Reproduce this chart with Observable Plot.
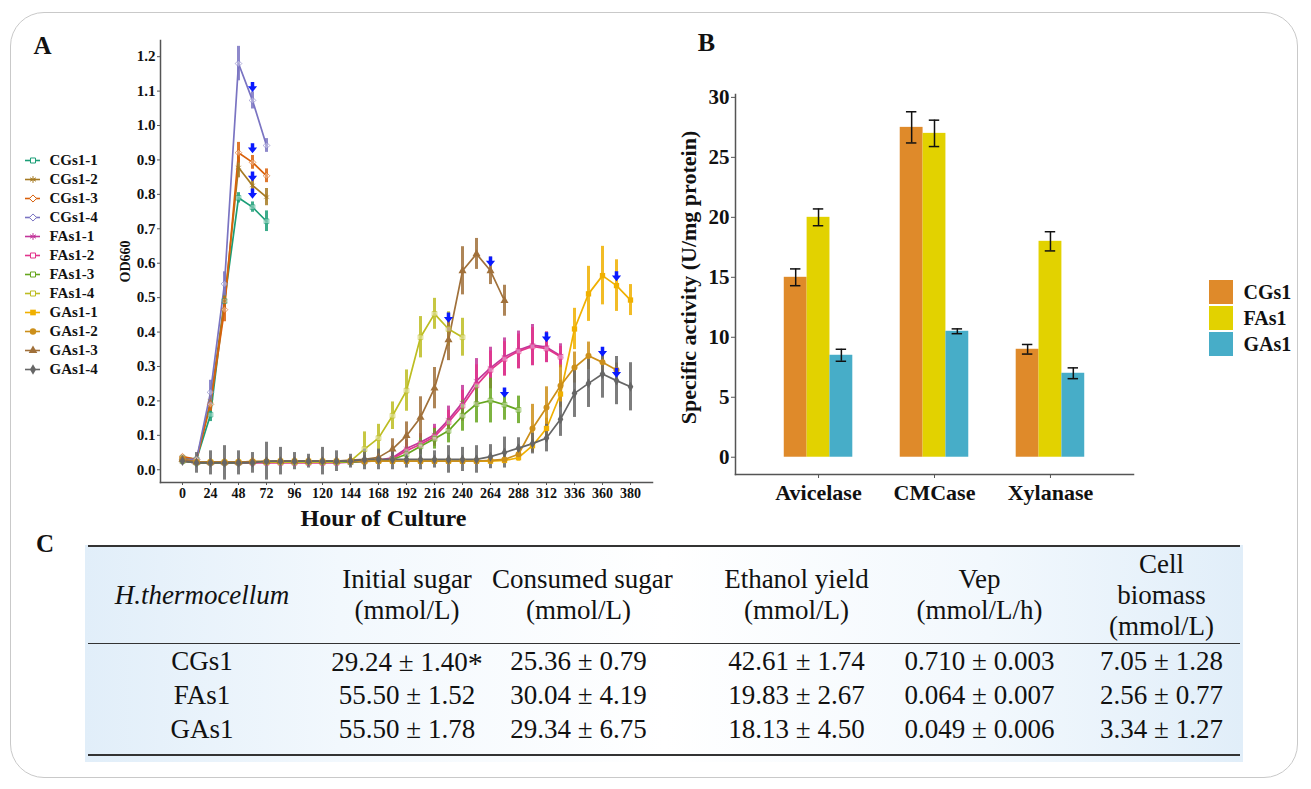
<!DOCTYPE html>
<html>
<head>
<meta charset="utf-8">
<script src="https://cdn.jsdelivr.net/npm/d3@7"></script>
<script src="https://cdn.jsdelivr.net/npm/@observablehq/plot@0.6"></script>
<style>
  body { margin: 0; background: #fff; }
  #fig { position: relative; width: 1311px; height: 789px; overflow: hidden;
         font-family: 'Liberation Serif', 'Times New Roman', serif; color: #111; }
  #border { position: absolute; left: 10px; top: 12px; width: 1288px; height: 766px;
            border: 1px solid #c9c9c9; border-radius: 34px; box-sizing: border-box; }
  .abs { position: absolute; }
  #labelC { position: absolute; left: 36px; top: 530px; font-size: 25px; font-weight: bold; }
  #tableWrap { position: absolute; left: 85px; top: 545px; width: 1158px; height: 217px;
    background: linear-gradient(to right, #e1eef9 0%, #f2f8fd 22%, #ffffff 50%, #f2f8fd 78%, #e1eef9 100%); }
  #tableWrap table { border-collapse: collapse; margin-left: 3px; width: 1152px; table-layout: fixed;
    font-size: 27px; color: #111; }
  #tableWrap th { font-weight: normal; line-height: 31px; height: 96px; padding: 0; text-align: center; white-space: nowrap;
    border-top: 2px solid #333; border-bottom: 1.5px solid #333; vertical-align: middle; }
  #tableWrap td { height: 34px; padding: 0; text-align: center; vertical-align: middle; white-space: nowrap; line-height: 30px; }
  #tableWrap tr.last td { border-bottom: 2px solid #333; padding-bottom: 8px; }
  #tableWrap th:first-child { font-style: italic; }
  #tableWrap .c1 { padding-left: 12px; }
  #tableWrap .c2 { padding-left: 18px; }
  #tableWrap .c3 { padding-right: 22px; }
  #tableWrap .c4 { padding-left: 18px; }
  #tableWrap .c6 { padding-left: 12px; }
  .star { font-size: 30px; position: relative; top: 2px; }
</style>
</head>
<body>
<div id="fig">
  <div id="border"></div>
  <div id="panelA" class="abs" style="left:0;top:0;"></div>
  <div id="legendA" class="abs" style="left:0;top:140px;"></div>
  <div id="panelB" class="abs" style="left:660px;top:0;"></div>
  <div id="legendB" class="abs" style="left:1200px;top:264px;"></div>
  <div id="labelC">C</div>
  <div id="tableWrap"></div>
</div>
<script>
// ---------------- Panel A data ----------------
const hoursA = [0,12,24,36,48,60,72,84,96,108,120,132,144,156,168,180,192,204,216,228,240,252,264,276,288,300,312,324,336,348,360,372,380];
const xTicksA = [0,24,48,72,96,120,144,168,192,216,240,264,288,312,336,360,380];
const yTicksA = [0,0.1,0.2,0.3,0.4,0.5,0.6,0.7,0.8,0.9,1.0,1.1,1.2];

const seriesNames = ["CGs1-1","CGs1-2","CGs1-3","CGs1-4","FAs1-1","FAs1-2","FAs1-3","FAs1-4","GAs1-1","GAs1-2","GAs1-3","GAs1-4"];
const seriesColors = ["#1b9e77","#a67a22","#d9600a","#7a74c2","#c2369a","#e2358c","#66a61e","#bdbd22","#f0b000","#cc8f1a","#a0703a","#666666"];
const seriesSymbols = ["square2","asterisk","diamond2","diamond2","asterisk","square2","square2","square2","square","circle","triangle","diamond"];
const filledSeries = ["GAs1-1","GAs1-2","GAs1-3","GAs1-4"];

const CGs1_1 = [0.035,0.030,0.160,0.490,0.790,0.763,0.722];
const CGs1_1_sd = [0.006,0.006,0.020,0.020,0.015,0.015,0.030];
const CGs1_2 = [0.030,0.030,0.200,0.490,0.878,0.826,0.792];
const CGs1_2_sd = [0.005,0.005,0.020,0.020,0.030,0.020,0.025];
const CGs1_3 = [0.038,0.030,0.190,0.465,0.921,0.893,0.854];
const CGs1_3_sd = [0.005,0.005,0.020,0.035,0.030,0.020,0.020];
const CGs1_4 = [0.030,0.030,0.225,0.540,1.180,1.073,0.942];
const CGs1_4_sd = [0.005,0.005,0.035,0.035,0.050,0.025,0.020];

const FAs1_1 = [0.025,0.020,0.020,0.020,0.020,0.022,0.022,0.022,0.022,0.022,0.022,0.022,0.022,0.025,0.028,0.035,0.062,0.080,0.102,0.145,0.195,0.258,0.296,0.328,0.348,0.362,0.356,0.331];
const FAs1_1_sd = [0.005,0.005,0.005,0.005,0.005,0.005,0.005,0.005,0.005,0.005,0.005,0.005,0.005,0.008,0.010,0.015,0.025,0.025,0.030,0.040,0.050,0.065,0.060,0.055,0.055,0.060,0.045,0.035];
const FAs1_2 = [0.030,0.022,0.020,0.020,0.020,0.020,0.020,0.020,0.020,0.020,0.020,0.020,0.022,0.024,0.026,0.032,0.055,0.074,0.096,0.138,0.186,0.245,0.290,0.322,0.344,0.358,0.352,0.328];
const FAs1_2_sd = [0.005,0.005,0.005,0.005,0.005,0.005,0.005,0.005,0.005,0.005,0.005,0.005,0.005,0.008,0.010,0.015,0.022,0.025,0.028,0.035,0.045,0.060,0.055,0.050,0.050,0.055,0.040,0.030];
const FAs1_3 = [0.025,0.020,0.020,0.020,0.020,0.022,0.022,0.022,0.022,0.022,0.022,0.022,0.022,0.024,0.026,0.030,0.045,0.068,0.090,0.113,0.157,0.191,0.201,0.189,0.174];
const FAs1_3_sd = [0.005,0.005,0.005,0.005,0.005,0.005,0.005,0.005,0.005,0.005,0.005,0.005,0.005,0.008,0.010,0.012,0.020,0.025,0.030,0.035,0.045,0.055,0.065,0.045,0.040];
const FAs1_4 = [0.028,0.022,0.022,0.022,0.022,0.022,0.022,0.022,0.022,0.022,0.022,0.022,0.025,0.060,0.092,0.157,0.230,0.385,0.453,0.409,0.385];
const FAs1_4_sd = [0.005,0.005,0.005,0.005,0.005,0.005,0.005,0.005,0.005,0.005,0.005,0.005,0.008,0.050,0.040,0.040,0.060,0.060,0.045,0.050,0.055];
const GAs1_1 = [0.030,0.022,0.022,0.022,0.022,0.024,0.024,0.025,0.025,0.025,0.025,0.025,0.025,0.025,0.025,0.025,0.025,0.025,0.025,0.025,0.025,0.025,0.025,0.027,0.035,0.070,0.120,0.220,0.409,0.511,0.564,0.535,0.493];
const GAs1_1_sd = [0.005,0.005,0.005,0.005,0.005,0.005,0.005,0.005,0.005,0.005,0.005,0.005,0.005,0.005,0.005,0.005,0.005,0.005,0.005,0.005,0.005,0.005,0.005,0.006,0.010,0.015,0.030,0.040,0.060,0.080,0.085,0.075,0.045];
const GAs1_2 = [0.032,0.022,0.022,0.022,0.022,0.024,0.024,0.025,0.025,0.025,0.025,0.025,0.025,0.025,0.025,0.025,0.025,0.025,0.025,0.025,0.025,0.025,0.027,0.030,0.045,0.120,0.181,0.244,0.297,0.331,0.312,0.290];
const GAs1_2_sd = [0.005,0.005,0.005,0.005,0.005,0.005,0.005,0.005,0.005,0.005,0.005,0.005,0.005,0.005,0.005,0.005,0.005,0.005,0.005,0.005,0.005,0.005,0.006,0.008,0.010,0.070,0.060,0.060,0.045,0.040,0.025,0.020];
const GAs1_3 = [0.030,0.022,0.022,0.022,0.022,0.024,0.024,0.025,0.025,0.025,0.025,0.025,0.028,0.030,0.036,0.060,0.099,0.152,0.237,0.377,0.578,0.627,0.578,0.491];
const GAs1_3_sd = [0.005,0.005,0.005,0.005,0.005,0.005,0.005,0.005,0.005,0.005,0.005,0.005,0.008,0.010,0.020,0.030,0.040,0.060,0.060,0.060,0.070,0.045,0.040,0.045];
const GAs1_4 = [0.025,0.020,0.020,0.020,0.020,0.020,0.025,0.025,0.025,0.025,0.025,0.025,0.025,0.030,0.030,0.030,0.030,0.030,0.030,0.030,0.030,0.030,0.038,0.050,0.063,0.076,0.092,0.147,0.222,0.251,0.278,0.259,0.241];
const GAs1_4_sd = [0.010,0.030,0.035,0.050,0.035,0.030,0.055,0.040,0.025,0.020,0.040,0.030,0.020,0.030,0.030,0.030,0.025,0.030,0.025,0.040,0.035,0.040,0.035,0.045,0.030,0.030,0.040,0.050,0.070,0.070,0.070,0.070,0.070];

// blue arrow markers
const markerSeries = ["CGs1-4","CGs1-3","CGs1-2","CGs1-1","FAs1-4","GAs1-3","FAs1-3","FAs1-1","GAs1-1","GAs1-2","GAs1-4"];
const markerHours  = [60,60,60,60,228,264,276,312,372,360,372];
const markerValues = [1.110,0.932,0.850,0.800,0.440,0.603,0.222,0.383,0.560,0.341,0.280];

// ---------------- Panel B data ----------------
const enzymes = ["Avicelase","CMCase","Xylanase"];
const strainsB = ["CGs1","FAs1","GAs1"];
const strainColors = ["#df8a2a","#e2d200","#47adc8"];
const activityCGs1 = [15.0, 27.5, 9.0];
const activityCGs1_sd = [0.7, 1.3, 0.4];
const activityFAs1 = [20.0, 27.0, 18.0];
const activityFAs1_sd = [0.7, 1.1, 0.8];
const activityGAs1 = [8.5, 10.5, 7.0];
const activityGAs1_sd = [0.5, 0.2, 0.45];
const yTicksB = [0,5,10,15,20,25,30];

// ---------------- Panel C data ----------------
const tableHeaders = ["H.thermocellum", "Initial sugar\n(mmol/L)", "Consumed sugar\n(mmol/L)", "Ethanol yield\n(mmol/L)", "Vep\n(mmol/L/h)", "Cell\nbiomass\n(mmol/L)"];
const tableStrains = ["CGs1","FAs1","GAs1"];
const initialSugar = ["29.24 ± 1.40", "55.50 ± 1.52", "55.50 ± 1.78"];
const initialSugarMark = ["*", "", ""];
const consumedSugar = ["25.36 ± 0.79", "30.04 ± 4.19", "29.34 ± 6.75"];
const ethanolYield = ["42.61 ± 1.74", "19.83 ± 2.67", "18.13 ± 4.50"];
const vep = ["0.710 ± 0.003", "0.064 ± 0.007", "0.049 ± 0.006"];
const cellBiomass = ["7.05 ± 1.28", "2.56 ± 0.77", "3.34 ± 1.27"];

// ---------------- build ----------------
const FONT = "'Liberation Serif', 'Times New Roman', serif";
const baseStyle = {fontFamily: FONT, fontWeight: "bold", color: "#111", background: "transparent", overflow: "visible"};

const valuesA = [CGs1_1,CGs1_2,CGs1_3,CGs1_4,FAs1_1,FAs1_2,FAs1_3,FAs1_4,GAs1_1,GAs1_2,GAs1_3,GAs1_4];
const sdA = [CGs1_1_sd,CGs1_2_sd,CGs1_3_sd,CGs1_4_sd,FAs1_1_sd,FAs1_2_sd,FAs1_3_sd,FAs1_4_sd,GAs1_1_sd,GAs1_2_sd,GAs1_3_sd,GAs1_4_sd];
const rowsA = seriesNames.flatMap((s, k) => valuesA[k].map((v, i) => ({series: s, hour: hoursA[i], value: v, sd: sdA[k][i]})));
const markers = markerSeries.map((s, i) => ({series: s, hour: markerHours[i], value: markerValues[i]}));
const isFilled = d => filledSeries.includes(d.series ?? d);

const arrowDown = {
  draw(ctx, size) {
    const r = Math.sqrt(size / Math.PI);
    ctx.moveTo(-0.38 * r, -1.25 * r);
    ctx.lineTo(0.38 * r, -1.25 * r);
    ctx.lineTo(0.38 * r, -0.3 * r);
    ctx.lineTo(r, -0.3 * r);
    ctx.lineTo(0, 0.95 * r);
    ctx.lineTo(-r, -0.3 * r);
    ctx.lineTo(-0.38 * r, -0.3 * r);
    ctx.closePath();
  }
};

const colorA = {domain: seriesNames, range: seriesColors};
const symbolA = {domain: seriesNames, range: seriesSymbols};

const plotA = Plot.plot({
  width: 660, height: 540,
  marginLeft: 160, marginRight: 8, marginTop: 40, marginBottom: 58,
  style: baseStyle,
  x: {type: "point", domain: hoursA, padding: 1.55},
  y: {domain: [-0.037, 1.247]},
  color: colorA, symbol: symbolA,
  marks: [
    Plot.frame({anchor: "left", stroke: "#555", strokeWidth: 1.5}),
    Plot.frame({anchor: "bottom", stroke: "#555", strokeWidth: 1.5}),
    Plot.axisY({ticks: yTicksA, tickFormat: d3.format(".1f"), tickSize: 3, tickPadding: 2, fontSize: 15, fontWeight: "bold", stroke: "#555", label: null}),
    Plot.axisX({ticks: xTicksA, tickSize: 3, tickPadding: 3, fontSize: 14, fontWeight: "bold", stroke: "#555", label: null}),
    Plot.text(["Hour of Culture"], {frameAnchor: "bottom", dx: -23, dy: 36, lineAnchor: "middle", textAnchor: "middle", fontSize: 24, fontWeight: "bold"}),
    Plot.text(["OD660"], {frameAnchor: "left", dx: -35, rotate: -90, textAnchor: "middle", lineAnchor: "middle", fontSize: 14, fontWeight: "bold"}),
    Plot.text(["A"], {frameAnchor: "top-left", dx: -118, dy: 5, textAnchor: "middle", lineAnchor: "middle", fontSize: 25, fontWeight: "bold"}),
    Plot.line(rowsA, {x: "hour", y: "value", z: "series", stroke: "series", strokeWidth: 1.7}),
    Plot.ruleX(rowsA, {x: "hour", y1: d => d.value - d.sd, y2: d => d.value + d.sd, stroke: "series", strokeWidth: 3, strokeOpacity: 0.85}),
    Plot.dot(rowsA.filter(d => !isFilled(d)), {x: "hour", y: "value", symbol: "series", stroke: "series", fill: "white", fillOpacity: 0.35, strokeOpacity: 0.6, r: 3, strokeWidth: 1}),
    Plot.dot(rowsA.filter(isFilled), {x: "hour", y: "value", symbol: "series", fill: "series", stroke: "none", r: 3}),
    Plot.dot(markers, {x: "hour", y: "value", symbol: arrowDown, fill: "#0a1aff", stroke: "none", r: 4.6})
  ]
});
document.getElementById("panelA").append(plotA);

const legendA = Plot.plot({
  width: 130, height: 250, margin: 0,
  style: baseStyle,
  x: {domain: [0, 1], range: [25, 40], axis: null},
  y: {type: "point", domain: seriesNames, range: [16.7, 231.7], padding: 0, axis: null},
  color: colorA, symbol: symbolA,
  marks: [
    Plot.ruleY(seriesNames, {y: d => d, x1: 0, x2: 1, stroke: d => d, strokeWidth: 1.6}),
    Plot.dot(seriesNames.filter(d => !isFilled(d)), {x: 0.5, y: d => d, symbol: d => d, stroke: d => d, fill: "white", r: 3.2, strokeWidth: 1}),
    Plot.dot(seriesNames.filter(isFilled), {x: 0.5, y: d => d, symbol: d => d, fill: d => d, stroke: "none", r: 3.2}),
    Plot.text(seriesNames, {x: 1.6, y: d => d, text: d => d, textAnchor: "start", fontSize: 15, fontWeight: "bold"})
  ]
});
document.getElementById("legendA").append(legendA);

// Panel B
const activities = [activityCGs1, activityFAs1, activityGAs1];
const activitiesSd = [activityCGs1_sd, activityFAs1_sd, activityGAs1_sd];
const barW = 0.197;
const rowsB = enzymes.flatMap((e, i) => strainsB.map((s, j) => ({
  enzyme: e, strain: s, center: (i + 1) + (j - 1) * barW, value: activities[j][i], sd: activitiesSd[j][i]
})));

const plotB = Plot.plot({
  width: 651, height: 540,
  marginLeft: 75, marginRight: 178, marginTop: 94, marginBottom: 66,
  style: baseStyle,
  x: {domain: [0.284, 3.716]},
  y: {domain: [-1.44, 30.24]},
  color: {domain: strainsB, range: strainColors},
  marks: [
    Plot.frame({anchor: "left", stroke: "#555", strokeWidth: 1.5}),
    Plot.frame({anchor: "bottom", stroke: "#555", strokeWidth: 1.5}),
    Plot.axisY({ticks: yTicksB, tickSize: 4, tickPadding: 2, fontSize: 21, fontWeight: "bold", stroke: "#555", label: null}),
    Plot.axisX({ticks: [1, 2, 3], tickFormat: i => enzymes[i - 1], tickSize: 4, tickPadding: 6, fontSize: 22, fontWeight: "bold", stroke: "#555", label: null}),
    Plot.text(["Specific activity (U/mg protein)"], {frameAnchor: "left", dx: -47, dy: -7, rotate: -90, textAnchor: "middle", lineAnchor: "middle", fontSize: 22, fontWeight: "bold"}),
    Plot.text(["B"], {frameAnchor: "top-left", dx: -29, dy: -52, textAnchor: "middle", lineAnchor: "middle", fontSize: 26, fontWeight: "bold"}),
    Plot.rect(rowsB, {x1: d => d.center - barW / 2, x2: d => d.center + barW / 2, y1: 0, y2: "value", fill: "strain"}),
    Plot.ruleX(rowsB, {x: "center", y1: d => d.value - d.sd, y2: d => d.value + d.sd, stroke: "#111", strokeWidth: 1.5}),
    Plot.ruleY(rowsB, {y: d => d.value + d.sd, x1: d => d.center - 0.045, x2: d => d.center + 0.045, stroke: "#111", strokeWidth: 1.5}),
    Plot.ruleY(rowsB, {y: d => d.value - d.sd, x1: d => d.center - 0.045, x2: d => d.center + 0.045, stroke: "#111", strokeWidth: 1.5})
  ]
});
document.getElementById("panelB").append(plotB);

const legendB = Plot.plot({
  width: 110, height: 102,
  marginLeft: 9, marginRight: 77, marginTop: 16, marginBottom: 10,
  style: baseStyle,
  y: {type: "band", domain: strainsB, paddingInner: 0.08, paddingOuter: 0, axis: null},
  color: {domain: strainsB, range: strainColors},
  marks: [
    Plot.cell(strainsB, {y: d => d, fill: d => d}),
    Plot.text(strainsB, {y: d => d, text: d => d, frameAnchor: "right", textAnchor: "start", dx: 10, fontSize: 20, fontWeight: "bold"})
  ]
});
document.getElementById("legendB").append(legendB);

// Panel C table
const cols = [tableStrains, initialSugar, consumedSugar, ethanolYield, vep, cellBiomass];
const widths = [216, 188, 195, 201, 183, 169];
const table = document.createElement("table");
const colgroup = document.createElement("colgroup");
widths.forEach(w => { const c = document.createElement("col"); c.style.width = w + "px"; colgroup.append(c); });
table.append(colgroup);
const thead = document.createElement("tr");
tableHeaders.forEach((h, k) => {
  const th = document.createElement("th");
  th.className = "c" + (k + 1);
  h.split("\n").forEach((line, n) => { if (n) th.append(document.createElement("br")); th.append(line); });
  thead.append(th);
});
table.append(thead);
tableStrains.forEach((s, r) => {
  const tr = document.createElement("tr");
  if (r === tableStrains.length - 1) tr.className = "last";
  cols.forEach((col, k) => {
    const td = document.createElement("td");
    td.className = "c" + (k + 1);
    td.append(col[r]);
    if (k === 1 && initialSugarMark[r]) {
      const sp = document.createElement("span"); sp.className = "star"; sp.textContent = initialSugarMark[r]; td.append(sp);
    }
    tr.append(td);
  });
  table.append(tr);
});
document.getElementById("tableWrap").append(table);
</script>
</body>
</html>
